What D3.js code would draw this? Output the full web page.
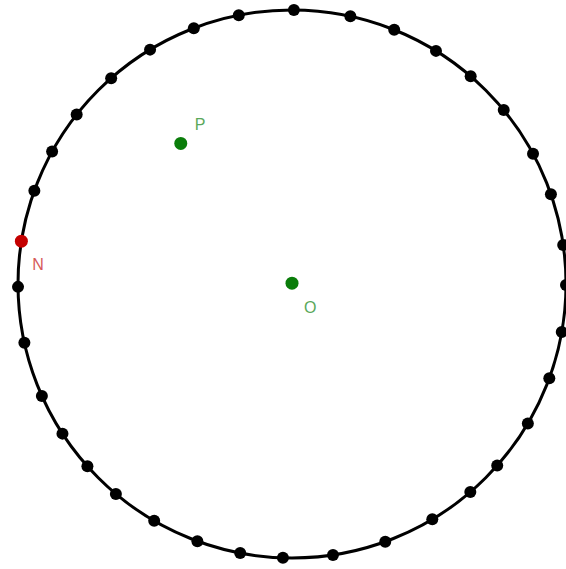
<!DOCTYPE html>
<html>
<head>
<meta charset="utf-8">
<script src="https://cdn.jsdelivr.net/npm/d3@7"></script>
<style>
  html, body { margin: 0; padding: 0; background: #fff; }
  svg { display: block; }
</style>
</head>
<body>
<svg id="chart" width="566" height="569"></svg>
<script>
// Angles (degrees, counter-clockwise from +x) of the black points on the circle
const circleAngles = [89.6, 77.7, 68.1, 58.3, 49.3, 39.4, 28.4, 19.1, 8.2, -0.2,
  -10.1, -20.1, -30.6, -41.5, -49.4, -59.2, -70.1, -81.4, -91.9, -100.9,
  -110.2, -120.2, -130.0, -138.3, -146.9, -155.9, -167.6, -179.4,
  160.1, 151.1, 141.8, 131.3, 121.2, 111.0, 101.2];
// Named points (unit-circle coordinates; circle radius = 1)
const pointNames = ["O", "P", "N"];
const pointX = [0, -0.406, Math.cos(171 * Math.PI / 180)];
const pointY = [0.003, 0.513, Math.sin(171 * Math.PI / 180)];
const pointKind = ["green", "green", "red"];
const circleRadius = 1;

const svg = d3.select("#chart");
const x = d3.scaleLinear().domain([-1, 1]).range([18, 566]);
const y = d3.scaleLinear().domain([-1, 1]).range([558, 10]);

const dotFill = { green: "#0a7d0a", red: "#c40000" };
const labelFill = { green: "#5aa85a", red: "#d65a5a" };
const labelOffset = { O: [12, 30], P: [14, -13], N: [11, 29] };

// circle
svg.append("circle")
  .attr("cx", x(0)).attr("cy", y(0))
  .attr("r", x(circleRadius) - x(0))
  .attr("fill", "none")
  .attr("stroke", "#000")
  .attr("stroke-width", 3);

// black points on circle
svg.append("g").selectAll("circle")
  .data(circleAngles)
  .join("circle")
  .attr("cx", a => x(circleRadius * Math.cos(a * Math.PI / 180)))
  .attr("cy", a => y(circleRadius * Math.sin(a * Math.PI / 180)))
  .attr("r", 6)
  .attr("fill", "#000");

const pts = pointNames.map((n, i) => ({ name: n, x: pointX[i], y: pointY[i], kind: pointKind[i] }));

svg.append("g").selectAll("circle")
  .data(pts)
  .join("circle")
  .attr("cx", d => x(d.x))
  .attr("cy", d => y(d.y))
  .attr("r", 6.5)
  .attr("fill", d => dotFill[d.kind]);

svg.append("g").selectAll("text")
  .data(pts)
  .join("text")
  .attr("x", d => x(d.x) + labelOffset[d.name][0])
  .attr("y", d => y(d.y) + labelOffset[d.name][1])
  .attr("font-family", "Liberation Sans, Arial, sans-serif")
  .attr("font-size", 16)
  .attr("fill", d => labelFill[d.kind])
  .text(d => d.name);
</script>
</body>
</html>
